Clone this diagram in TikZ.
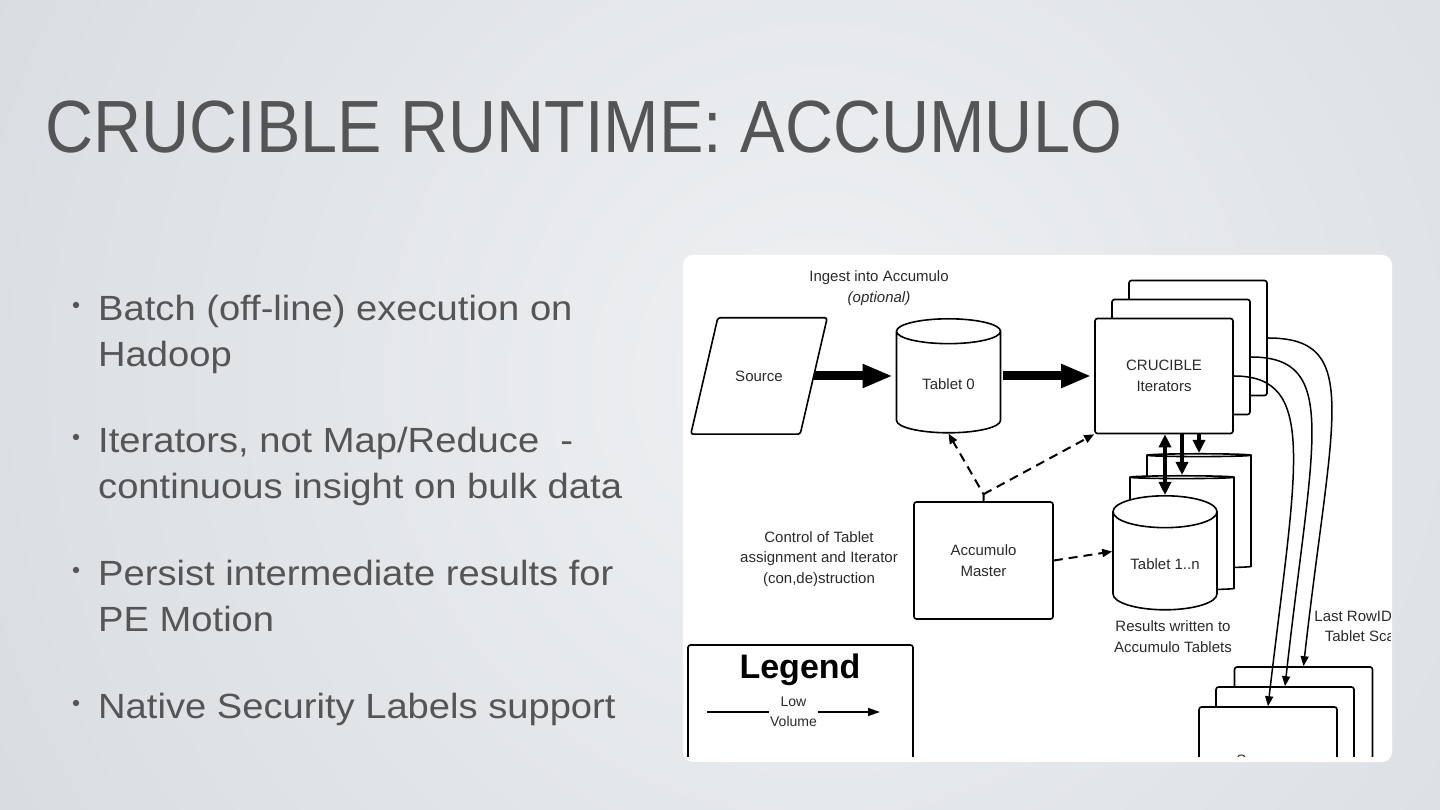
\documentclass[tikz,border=0pt]{standalone}
\usepackage{fontspec}
\setmainfont{Liberation Sans}
\newfontfamily\titlefont[FakeStretch=0.9]{Liberation Sans}
\newfontfamily\bodyfont[FakeStretch=1.09]{Liberation Sans}
\usetikzlibrary{arrows.meta,shapes.geometric,positioning}

\tikzset{
  difont/.style={font=\fontsize{15}{20.5}\selectfont, text=inkDark},
  bodyline/.style={anchor=base west, inner sep=0, font=\bodyfont\fontsize{35}{42}\selectfont, text=titleGray},
  diabox/.style={draw=black, line width=1.6pt, rounded corners=2.5pt, fill=white,
    minimum width=138pt, minimum height=115pt, align=center, difont},
  tabcyl/.style={cylinder, shape border rotate=90, draw=black, line width=1.6pt, fill=white,
    aspect=0.42, minimum width=104pt, minimum height=114pt, anchor=north, difont},
  srcline/.style={draw=black, line width=1.6pt, rounded corners=2.5pt},
  bigarrow/.style={line width=9pt, -{Triangle[length=30pt,width=22pt]}},
  midarrow/.style={line width=3.5pt, -{Triangle[length=13pt,width=12pt]}},
  dasharrow/.style={line width=2pt, dash pattern=on 9pt off 6pt, -{Triangle[length=10pt,width=8pt]}},
  curvearrow/.style={line width=1.5pt, -{Triangle[length=10pt,width=8pt]}},
  thinarrow/.style={line width=1.5pt, -{Triangle[length=12pt,width=8pt]}}
}

\begin{document}
\begin{tikzpicture}[x=1pt,y=1pt]

% Colours
\definecolor{bgOut}{HTML}{D7DBDF}
\definecolor{bgIn}{HTML}{EFF1F3}
\definecolor{titleGray}{HTML}{545557}
\definecolor{inkDark}{HTML}{2A2A2A}

\useasboundingbox (0,0) rectangle (1440,810);

% Background
\fill[bgOut] (0,0) rectangle (1440,810);
\shade[inner color=bgIn, outer color=bgOut] (820,430) circle (1000);

% Title
\node[anchor=base west, inner sep=0, font=\titlefont\fontsize{74}{80}\selectfont, text=titleGray]
  (title) at (45,657) {CRUCIBLE RUNTIME: ACCUMULO};

% Bullet list
\foreach \yb in {489,357,224,91}
  \fill[titleGray] (76,\yb+16) circle (3.2);
\node[bodyline] (b1a) at (98,489) {Batch (off-line) execution on};
\node[bodyline] (b1b) at (98,443) {Hadoop};
\node[bodyline] (b2a) at (98,357) {Iterators, not Map/Reduce\ \ -};
\node[bodyline] (b2b) at (98,311) {continuous insight on bulk data};
\node[bodyline] (b3a) at (98,224) {Persist intermediate results for};
\node[bodyline] (b3b) at (98,178) {PE Motion};
\node[bodyline] (b4a) at (98,91) {Native Security Labels support};

% White panel
\fill[white, rounded corners=10pt] (683,48) rectangle (1392,555);

\begin{scope}
\clip (684,53) rectangle (1390,554);

% Labels
\node[difont, align=center] (ingest) at (879,522) {Ingest into Accumulo\\\textit{(optional)}};
\node[difont, align=center] (ctrl) at (819,251) {Control of Tablet\\assignment and Iterator\\(con,de)struction};
\node[difont, align=center] (results) at (1173,173.5) {Results written to\\Accumulo Tablets};
\node[difont, align=center] (lastrow) at (1364,184) {Last RowID for\\Tablet Scan};

% Source (parallelogram) and Tablet 0
\node[minimum width=136pt, minimum height=116pt, difont] (source) at (759,434) {Source};
\draw[srcline] ([xshift=27pt]source.north west) -- (source.north east)
  -- ([xshift=-27pt]source.south east) -- (source.south west) -- cycle;
\node[tabcyl] (tab0) at (948.5,492) {Tablet 0};

% CRUCIBLE iterators
\node[diabox] (cruc3) at (1198,472) {};
\node[diabox] (cruc2) at (1181,453) {};
\node[diabox] (cruc1) at (1164,434) {CRUCIBLE\\Iterators};

% Accumulo master
\node[diabox, minimum width=139pt, minimum height=117pt] (master) at (983.5,249.5) {Accumulo\\Master};

% Tablets 1..n
\node[tabcyl] (tabN3) at (1199,357) {};
\node[tabcyl] (tabN2) at (1182,335) {};
\node[tabcyl] (tabN1) at (1165,315) {Tablet 1..n};

% Scanners
\node[diabox, minimum height=106pt] (scan3) at (1303.5,90) {};
\node[diabox, minimum height=106pt] (scan2) at (1285,70) {};
\node[diabox, minimum height=106pt] (scan1) at (1268,50) {Scanners};

% Legend
\node[draw=black, line width=1.6pt, rounded corners=2.5pt, minimum width=225pt, minimum height=150pt] (legend) at (800.5,90) {};
\node[font=\bfseries\fontsize{34}{40}\selectfont, text=black] (legtitle) at (800,140) {Legend};
\coordinate (lowA) at (707,98);
\coordinate (lowB) at (880,98);
\draw[thinarrow] (lowA) -- node[fill=white, inner sep=1.5pt, align=center, font=\fontsize{14}{20}\selectfont, text=inkDark] (lowlabel) {Low\\Volume} (lowB);

% Connectors
\draw[bigarrow, shorten >=3pt] ([xshift=-13pt]source.east) -- (source.east -| tab0.west);
\draw[bigarrow, shorten >=3pt, shorten <=2pt] (source.east -| tab0.east) -- (cruc1.west);

\draw[dasharrow] (master.north) -- ++(0,7) coordinate (mfork) -- (tab0.south);
\draw[dasharrow] (mfork) -- (cruc1.south west);
\draw[dasharrow] (master.east) -- ([yshift=9pt]master.east -| tabN1.west);

\draw[midarrow, {Triangle[length=13pt,width=12pt]}-{Triangle[length=13pt,width=12pt]}] (tabN1.north |- cruc1.south) -- (tabN1.north);
\draw[midarrow] (tabN2.north |- cruc1.south) -- (tabN2.north);
\draw[midarrow] (tabN3.north |- cruc1.south) -- (tabN3.north);

\draw[curvearrow] (cruc3.east) .. controls +(95,0) and +(28,250) .. (scan3.north);
\draw[curvearrow] (cruc2.east) .. controls +(90,0) and +(27,245) .. (scan2.north);
\draw[curvearrow] (cruc1.east) .. controls +(85,0) and +(28,240) .. (scan1.north);

\end{scope}

\end{tikzpicture}
\end{document}
